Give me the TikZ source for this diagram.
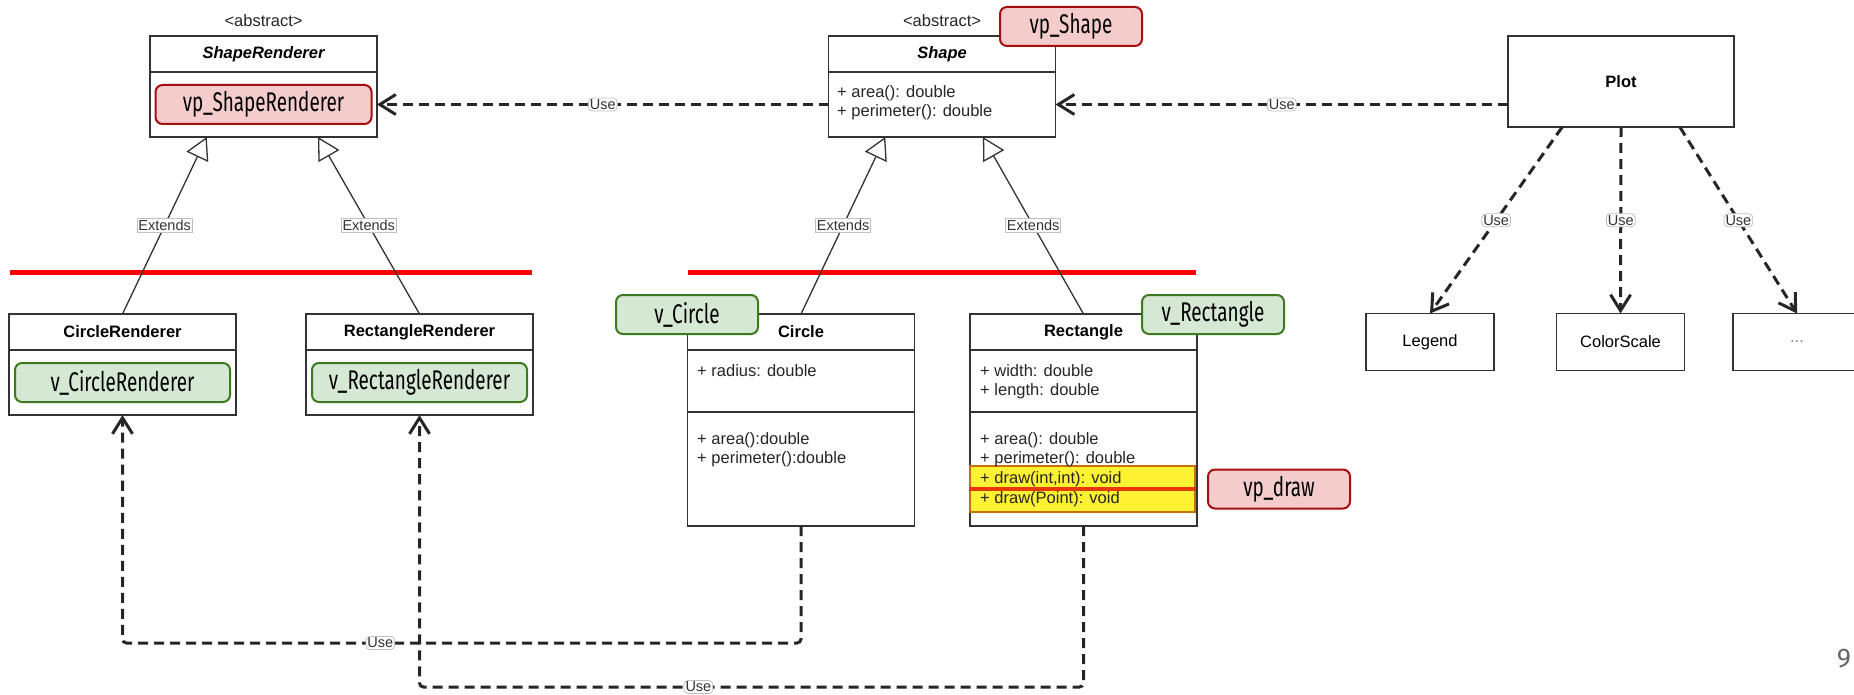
\documentclass[tikz,border=0pt]{standalone}
\usepackage{fontspec}
\setmainfont{Liberation Sans}
\newfontfamily\tagfont[FakeStretch=0.7]{Fira Sans}
\newfontfamily\pagefont{Fira Sans}
\usetikzlibrary{positioning,arrows.meta,calc}
\definecolor{umlline}{HTML}{333333}
\definecolor{greenfill}{HTML}{D5E8D4}
\definecolor{greenline}{HTML}{3D7A1E}
\definecolor{redfill}{HTML}{F4CCCC}
\definecolor{redline}{HTML}{A50F0F}
\definecolor{hlfill}{HTML}{FFF233}
\definecolor{hlline}{HTML}{C8700A}
\definecolor{hlbar}{HTML}{E83A00}
\tikzset{
  >={Straight Barb[length=16pt,width=20pt]},
  uml/.style={draw=umlline, line width=1.8pt, fill=white, inner sep=0pt, outer sep=0pt,
    font=\fontsize{16.5}{19.7}\selectfont},
  classhead/.style={uml, minimum width=227pt, minimum height=36pt,
    font=\fontsize{16.5}{19.7}\selectfont\bfseries},
  abstracthead/.style={classhead, font=\fontsize{16.5}{19.7}\selectfont\bfseries\itshape},
  classbody/.style={uml, minimum width=227pt},
  stereo/.style={inner sep=0pt, font=\fontsize{16.5}{19.7}\selectfont, text=black!85},
  member/.style={anchor=north west, align=left, inner sep=0pt, text=black!85,
    font=\fontsize{16.5}{19.7}\selectfont},
  tag/.style={rounded corners=7pt, line width=2pt, minimum height=39pt, inner sep=0pt,
    font=\tagfont\fontsize{27}{27}\selectfont},
  vtag/.style={tag, draw=greenline, fill=greenfill},
  vptag/.style={tag, draw=redline, fill=redfill},
  use/.style={->, dash pattern=on 10pt off 6pt, line width=3pt, black!85, rounded corners=4pt},
  extends/.style={-{Triangle[open, length=22pt, width=24pt, fill=white]}, line width=1.3pt, umlline},
  lbl/.style={draw=black!25, fill=white, line width=0.8pt, inner sep=1.5pt, solid,
    font=\fontsize{14.5}{14.5}\selectfont, text=black!80},
  redbar/.style={red, line width=5pt},
}

\begin{document}
\begin{tikzpicture}[x=1pt, y=-1pt]
  \fill[white] (0,0) rectangle (1854,695);
  \useasboundingbox (0,0) rectangle (1854,695);

  % abstract classes
  \node[abstracthead] (sr) at (263.5,54) {ShapeRenderer};
  \node[classbody, minimum height=65pt, below=0pt of sr] (srb) {};
  \node[stereo, above=9pt of sr] (srst) {<abstract>};
  \node[vptag, minimum width=216pt] (vpsr) at (srb) {vp\_ShapeRenderer};

  \node[abstracthead] (sh) at (942,54) {Shape};
  \node[classbody, minimum height=65pt, below=0pt of sh] (shb) {};
  \node[stereo, above=9pt of sh] (shst) {<abstract>};
  \node[member] (shtxt) at (837,85) {+ area(): double\\+ perimeter(): double};
  \node[vptag, minimum width=142pt] (vpsh) at (1071,26.5) {vp\_Shape};

  % plot and helpers
  \node[uml, minimum width=226pt, minimum height=91pt, font=\fontsize{16.5}{19.7}\selectfont\bfseries] (plot) at (1621,81.5) {Plot};
  \node[uml, minimum width=128pt, minimum height=57pt] (legend) at (1430,342) {Legend};
  \node[uml, minimum width=128pt, minimum height=57pt] (cscale) at (1620.5,342) {ColorScale};
  \node[uml, minimum width=128pt, minimum height=57pt, text=black!50] (more) at (1797,342) {...};

  % renderers
  \node[classhead] (cr) at (122.5,332) {CircleRenderer};
  \node[classbody, minimum height=65pt, below=0pt of cr] (crb) {};
  \node[vtag, minimum width=215pt] (vcr) at (crb) {v\_CircleRenderer};

  \node[classhead] (rr) at (419.5,332) {RectangleRenderer};
  \node[classbody, minimum height=65pt, below=0pt of rr] (rrb) {};
  \node[vtag, minimum width=215pt] (vrr) at (rrb) {v\_RectangleRenderer};

  % shapes
  \node[classhead] (ci) at (801,332) {Circle};
  \node[classbody, minimum height=62pt, below=0pt of ci] (cia) {};
  \node[classbody, minimum height=114pt, below=0pt of cia] (cim) {};
  \node[member] (citxt) at (697,364) {+ radius: double};
  \node[member] (cimtxt) at (697,432) {+ area():double\\+ perimeter():double};

  \node[classhead] (re) at (1083.5,332) {Rectangle};
  \node[classbody, minimum height=62pt, below=0pt of re] (rea) {};
  \node[classbody, minimum height=114pt, below=0pt of rea] (rem) {};
  \node[draw=hlline, fill=hlfill, line width=1.5pt, minimum width=225pt, minimum height=46pt] (hl) at (1082.5,489) {};
  \node[member] (retxt) at (980,364) {+ width: double\\+ length: double};
  \node[member] (remtxt) at (980,432) {+ area(): double\\+ perimeter(): double\\+ draw(int,int): void\\+ draw(Point): void};
  \draw[hlbar, line width=4pt] (hl.west) -- (hl.east);

  \node[vtag, minimum width=142pt] (vci) at (687,314.5) {v\_Circle};
  \node[vtag, minimum width=142pt] (vre) at (1213,314.5) {v\_Rectangle};
  \node[vptag, minimum width=142pt] (vpdraw) at (1279,489) {vp\_draw};

  % separators
  \draw[redbar] (10,272) -- (532,272);
  \draw[redbar] (688,272) -- (1196,272);

  % inheritance
  \draw[extends] (cr.north) -- ($(srb.south west)!0.25!(srb.south east)$) node[lbl, midway] {Extends};
  \draw[extends] (rr.north) -- ($(srb.south west)!0.74!(srb.south east)$) node[lbl, midway] {Extends};
  \draw[extends] (ci.north) -- ($(shb.south west)!0.25!(shb.south east)$) node[lbl, midway] {Extends};
  \draw[extends] (re.north) -- ($(shb.south west)!0.68!(shb.south east)$) node[lbl, midway] {Extends};

  % usage
  \draw[use] (shb.west) -- (srb.east) node[lbl, midway] {Use};
  \draw[use] (plot.west |- shb) -- (shb.east) node[lbl, midway] {Use};
  \draw[use] ($(plot.south west)!0.24!(plot.south east)$) -- (legend.north) node[lbl, midway] {Use};
  \draw[use] (plot.south) -- (cscale.north) node[lbl, midway] {Use};
  \draw[use] ($(plot.south west)!0.76!(plot.south east)$) -- (more.north) node[lbl, midway] {Use};
  \draw[use] (cim.south) -- ++(0,117) -| (crb.south) node[lbl, pos=0.31] {Use};
  \draw[use] (rem.south) -- ++(0,161) -| (rrb.south) node[lbl, pos=0.29] {Use};

  \node[font=\pagefont\fontsize{27}{27}\selectfont, text=black!60, inner sep=0pt] (pagenum) at (1844,659) {9};
\end{tikzpicture}
\end{document}
